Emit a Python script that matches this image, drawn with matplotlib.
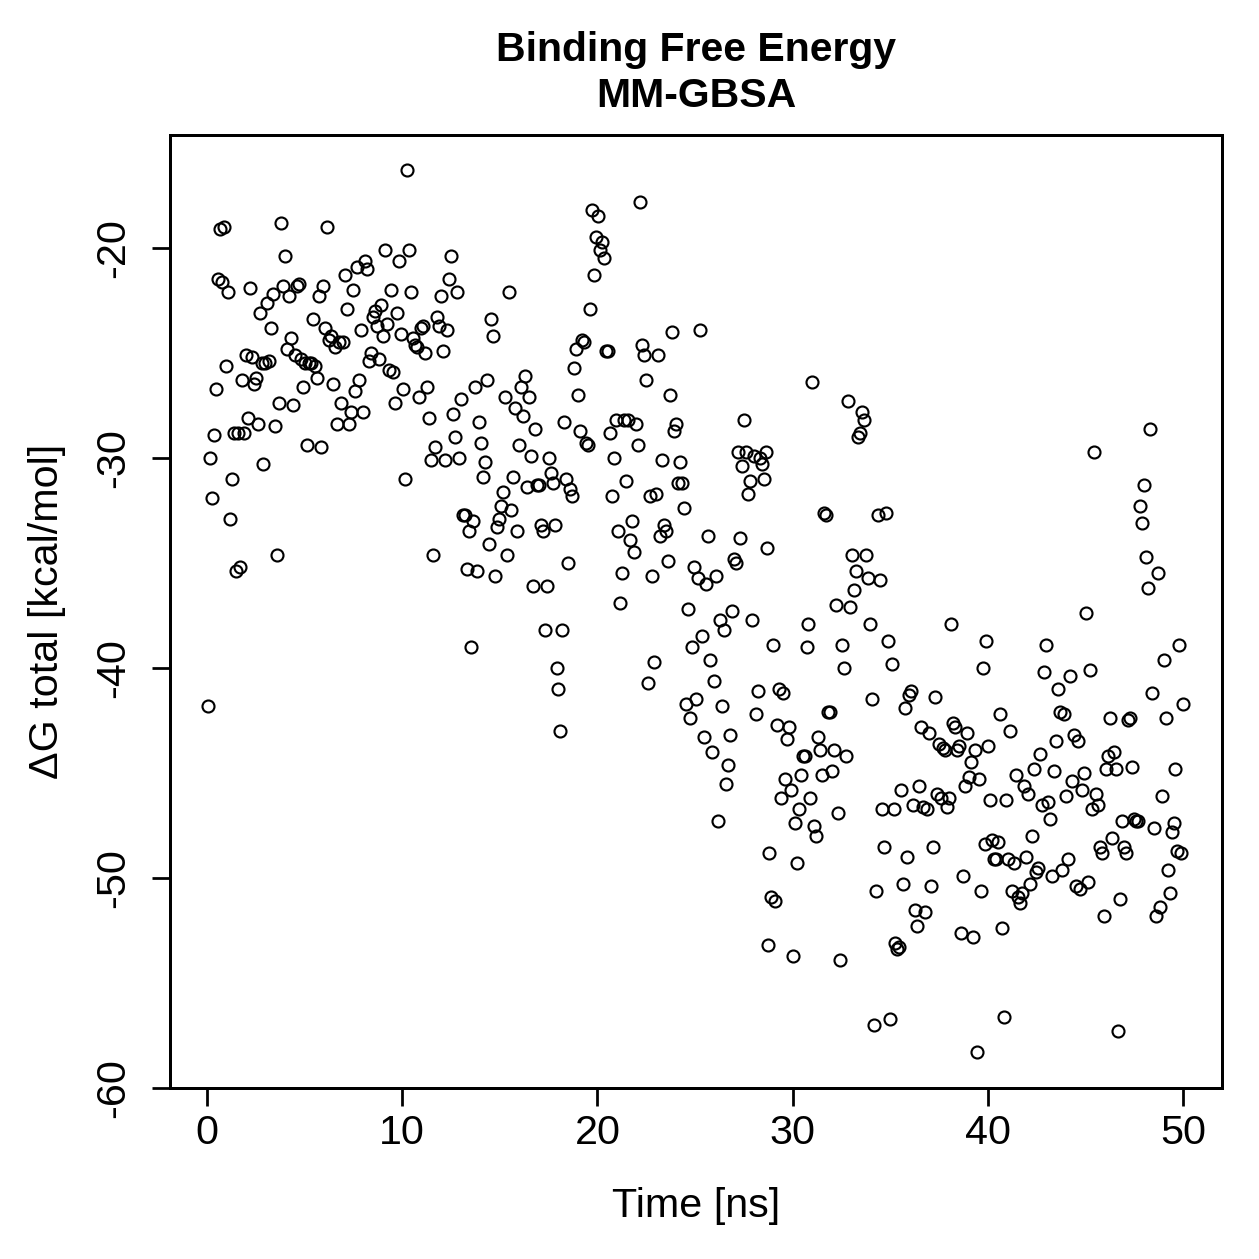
import matplotlib
matplotlib.use("Agg")
import matplotlib.pyplot as plt

plt.rcParams["font.family"] = ["Liberation Sans", "DejaVu Sans"]
plt.rcParams["axes.unicode_minus"] = False

# --- data (time in ns, dG in kcal/mol) ---
time_ns = [
    0.05, 0.15, 0.26, 0.36, 0.46, 0.56, 0.67, 0.77, 0.87, 0.97,
    1.08, 1.18, 1.28, 1.38, 1.49, 1.59, 1.69, 1.79, 1.90, 2.00,
    2.10, 2.20, 2.31, 2.41, 2.51, 2.61, 2.72, 2.82, 2.87, 2.97,
    3.07, 3.18, 3.28, 3.38, 3.48, 3.59, 3.69, 3.79, 3.89, 4.00,
    4.10, 4.20, 4.30, 4.41, 4.51, 4.61, 4.71, 4.82, 4.92, 5.02,
    5.12, 5.23, 5.33, 5.43, 5.53, 5.64, 5.74, 5.84, 5.94, 6.05,
    6.15, 6.25, 6.35, 6.45, 6.56, 6.66, 6.76, 6.86, 6.97, 7.07,
    7.17, 7.27, 7.38, 7.48, 7.58, 7.68, 7.79, 7.89, 7.99, 8.09,
    8.20, 8.30, 8.40, 8.50, 8.61, 8.71, 8.81, 8.91, 9.02, 9.12,
    9.22, 9.32, 9.43, 9.53, 9.63, 9.73, 9.84, 9.94, 10.04, 10.14,
    10.25, 10.35, 10.45, 10.55, 10.66, 10.76, 10.86, 10.96, 11.07, 11.17,
    11.27, 11.37, 11.48, 11.58, 11.68, 11.78, 11.89, 11.99, 12.09, 12.19,
    12.30, 12.40, 12.50, 12.60, 12.71, 12.81, 12.91, 13.01, 13.11, 13.22,
    13.32, 13.42, 13.52, 13.63, 13.73, 13.83, 13.93, 14.04, 14.14, 14.24,
    14.34, 14.45, 14.55, 14.65, 14.75, 14.86, 14.96, 15.06, 15.16, 15.27,
    15.37, 15.47, 15.57, 15.68, 15.78, 15.88, 15.98, 16.09, 16.19, 16.29,
    16.39, 16.50, 16.60, 16.70, 16.80, 16.91, 17.01, 17.11, 17.21, 17.32,
    17.42, 17.52, 17.62, 17.73, 17.83, 17.93, 17.98, 18.08, 18.19, 18.29,
    18.39, 18.49, 18.60, 18.70, 18.80, 18.90, 19.01, 19.11, 19.21, 19.31,
    19.42, 19.52, 19.62, 19.72, 19.83, 19.93, 20.03, 20.13, 20.24, 20.34,
    20.44, 20.54, 20.65, 20.75, 20.85, 20.95, 21.06, 21.16, 21.26, 21.36,
    21.47, 21.57, 21.67, 21.77, 21.88, 21.98, 22.08, 22.18, 22.29, 22.39,
    22.49, 22.59, 22.70, 22.80, 22.90, 23.00, 23.10, 23.21, 23.31, 23.41,
    23.51, 23.62, 23.72, 23.82, 23.92, 24.03, 24.13, 24.23, 24.33, 24.44,
    24.54, 24.64, 24.74, 24.85, 24.95, 25.05, 25.15, 25.26, 25.36, 25.46,
    25.56, 25.67, 25.77, 25.87, 25.97, 26.08, 26.18, 26.28, 26.38, 26.49,
    26.59, 26.69, 26.79, 26.90, 27.00, 27.10, 27.20, 27.31, 27.41, 27.51,
    27.61, 27.72, 27.82, 27.92, 28.02, 28.13, 28.23, 28.33, 28.43, 28.54,
    28.64, 28.69, 28.74, 28.79, 28.89, 29.00, 29.10, 29.20, 29.30, 29.41,
    29.51, 29.61, 29.71, 29.82, 29.92, 30.02, 30.12, 30.23, 30.33, 30.43,
    30.53, 30.64, 30.74, 30.79, 30.89, 30.99, 31.10, 31.20, 31.30, 31.40,
    31.51, 31.61, 31.71, 31.81, 31.92, 32.02, 32.12, 32.22, 32.33, 32.43,
    32.53, 32.63, 32.74, 32.84, 32.94, 33.04, 33.15, 33.25, 33.35, 33.45,
    33.56, 33.66, 33.76, 33.86, 33.97, 34.07, 34.17, 34.27, 34.38, 34.48,
    34.58, 34.68, 34.79, 34.89, 34.99, 35.09, 35.20, 35.25, 35.35, 35.45,
    35.55, 35.66, 35.76, 35.86, 35.96, 36.07, 36.17, 36.27, 36.37, 36.48,
    36.58, 36.68, 36.78, 36.89, 36.99, 37.09, 37.19, 37.30, 37.40, 37.50,
    37.60, 37.71, 37.81, 37.91, 38.01, 38.12, 38.22, 38.32, 38.42, 38.53,
    38.63, 38.73, 38.83, 38.94, 39.04, 39.14, 39.24, 39.35, 39.45, 39.55,
    39.65, 39.76, 39.86, 39.91, 40.01, 40.11, 40.22, 40.32, 40.42, 40.52,
    40.63, 40.73, 40.83, 40.93, 41.04, 41.14, 41.24, 41.34, 41.45, 41.55,
    41.65, 41.75, 41.86, 41.96, 42.06, 42.16, 42.26, 42.37, 42.47, 42.57,
    42.67, 42.78, 42.88, 42.98, 43.08, 43.19, 43.29, 43.39, 43.49, 43.60,
    43.70, 43.80, 43.90, 44.01, 44.11, 44.21, 44.31, 44.42, 44.52, 44.62,
    44.72, 44.83, 44.93, 45.03, 45.13, 45.24, 45.34, 45.44, 45.54, 45.65,
    45.75, 45.85, 45.95, 46.06, 46.16, 46.26, 46.36, 46.47, 46.57, 46.67,
    46.77, 46.88, 46.98, 47.08, 47.18, 47.29, 47.39, 47.49, 47.59, 47.70,
    47.80, 47.90, 48.00, 48.10, 48.21, 48.31, 48.41, 48.51, 48.62, 48.72,
    48.82, 48.92, 49.03, 49.13, 49.23, 49.33, 49.44, 49.54, 49.59, 49.69,
    49.80, 49.90, 50.00,
]

dg_total = [
    -41.8, -30.0, -31.9, -28.9, -26.7, -21.5, -19.1, -21.6, -19.0, -25.6,
    -22.1, -32.9, -31.0, -28.8, -35.4, -28.8, -35.2, -26.3, -28.8, -25.1,
    -28.1, -21.9, -25.2, -26.5, -26.2, -28.4, -23.1, -25.5, -30.3, -25.5,
    -22.6, -25.4, -23.8, -22.2, -28.5, -34.6, -27.4, -18.8, -21.8, -20.4,
    -24.8, -22.3, -24.3, -27.5, -25.1, -21.8, -21.7, -25.3, -26.6, -25.5,
    -29.4, -25.5, -25.5, -23.4, -25.6, -26.2, -22.3, -29.5, -21.8, -23.8,
    -19.0, -24.4, -24.2, -26.5, -24.7, -28.4, -24.5, -27.4, -24.5, -21.3,
    -22.9, -28.4, -27.8, -22.0, -26.8, -20.9, -26.3, -23.9, -27.8, -20.6,
    -21.0, -25.4, -25.0, -23.3, -23.0, -23.7, -25.3, -22.7, -24.2, -20.1,
    -23.6, -25.8, -22.0, -25.9, -27.4, -23.1, -20.6, -24.1, -26.7, -31.0,
    -16.3, -20.1, -22.1, -24.3, -24.6, -24.7, -27.1, -23.8, -23.7, -25.0,
    -26.6, -28.1, -30.1, -34.6, -29.5, -23.3, -23.7, -22.3, -24.9, -30.1,
    -23.9, -21.5, -20.4, -27.9, -29.0, -22.1, -30.0, -27.2, -32.7, -32.7,
    -35.3, -33.5, -39.0, -33.0, -26.6, -35.4, -28.3, -29.3, -30.9, -30.2,
    -26.3, -34.1, -23.4, -24.2, -35.6, -33.3, -32.9, -32.3, -31.6, -27.1,
    -34.6, -22.1, -32.5, -30.9, -27.6, -33.5, -29.4, -26.6, -28.0, -26.1,
    -31.4, -27.1, -29.9, -36.1, -28.6, -31.3, -31.3, -33.2, -33.5, -38.2,
    -36.1, -30.0, -30.7, -31.2, -33.2, -40.0, -41.0, -43.0, -38.2, -28.3,
    -31.0, -35.0, -31.5, -31.8, -25.7, -24.8, -27.0, -28.7, -24.4, -24.5,
    -29.3, -29.4, -22.9, -18.2, -21.3, -19.5, -18.5, -20.1, -19.7, -20.5,
    -24.9, -24.9, -28.8, -31.8, -30.0, -28.2, -33.5, -36.9, -35.5, -28.2,
    -31.1, -28.2, -33.9, -33.0, -34.5, -28.4, -29.4, -17.8, -24.6, -25.1,
    -26.3, -40.7, -31.8, -35.6, -39.7, -31.7, -25.1, -33.7, -30.1, -33.2,
    -33.5, -34.9, -27.0, -24.0, -28.7, -28.4, -31.2, -30.2, -31.2, -32.4,
    -41.7, -37.2, -42.4, -39.0, -35.2, -41.5, -35.7, -23.9, -38.5, -43.3,
    -36.0, -33.7, -39.6, -44.0, -40.6, -35.6, -47.3, -37.7, -41.8, -38.2,
    -45.5, -44.6, -43.2, -37.3, -34.8, -35.0, -29.7, -33.8, -30.4, -28.2,
    -29.7, -31.7, -31.1, -37.7, -29.9, -42.2, -41.1, -30.0, -30.3, -31.0,
    -29.7, -34.3, -53.2, -48.8, -50.9, -38.9, -51.1, -42.7, -41.0, -46.2,
    -41.2, -45.3, -43.4, -42.8, -45.8, -53.7, -47.4, -49.3, -46.7, -45.1,
    -44.2, -44.2, -39.0, -37.9, -46.2, -26.4, -47.5, -48.0, -43.3, -43.9,
    -45.1, -32.6, -32.7, -42.1, -42.1, -44.9, -43.9, -37.0, -46.9, -53.9,
    -38.9, -40.0, -44.2, -27.3, -37.1, -34.6, -36.3, -35.4, -29.0, -28.8,
    -27.8, -28.2, -34.6, -35.7, -37.9, -41.5, -57.0, -50.6, -32.7, -35.8,
    -46.7, -48.5, -32.6, -38.7, -56.7, -39.8, -46.7, -53.1, -53.4, -53.3,
    -45.8, -50.3, -41.9, -49.0, -41.3, -41.1, -46.5, -51.5, -52.3, -45.6,
    -42.8, -46.6, -51.6, -46.7, -43.1, -50.4, -48.5, -41.4, -46.0, -43.6,
    -46.2, -43.8, -43.9, -46.6, -46.2, -37.9, -42.6, -42.8, -43.9, -43.7,
    -52.6, -49.9, -45.6, -43.1, -45.2, -44.5, -52.8, -43.9, -58.3, -45.3,
    -50.6, -40.0, -48.4, -38.7, -43.7, -46.3, -48.2, -49.1, -49.1, -48.3,
    -42.2, -52.4, -56.6, -46.3, -49.1, -43.0, -50.6, -49.3, -45.1, -50.9,
    -51.2, -50.7, -45.6, -49.0, -46.0, -50.3, -48.0, -44.8, -49.7, -49.5,
    -44.1, -46.5, -40.2, -38.9, -46.4, -47.2, -49.9, -44.9, -43.5, -41.0,
    -42.1, -49.6, -42.2, -46.1, -49.1, -40.4, -45.4, -43.2, -50.4, -43.5,
    -50.5, -45.8, -45.0, -37.4, -50.2, -40.1, -46.7, -29.7, -46.0, -46.5,
    -48.5, -48.8, -51.8, -44.8, -44.2, -42.4, -48.1, -44.0, -44.8, -57.3,
    -51.0, -47.3, -48.5, -48.8, -42.5, -42.4, -44.7, -47.2, -47.3, -47.3,
    -32.3, -33.1, -31.3, -34.7, -36.2, -28.6, -41.2, -47.6, -51.8, -35.5,
    -51.4, -46.1, -39.6, -42.4, -49.6, -50.7, -47.8, -47.4, -44.8, -48.7,
    -38.9, -48.8, -41.7,
]

x_ticks = [0, 10, 20, 30, 40, 50]
y_ticks = [-60, -50, -40, -30, -20]

fig = plt.figure(figsize=(1259 / 180, 1259 / 180), dpi=180)
ax = fig.add_axes([0.135, 0.1358, 0.8356, 0.757])

ax.plot(time_ns, dg_total, linestyle="none", marker="o", markersize=4.8,
        markerfacecolor="none", markeredgecolor="black", markeredgewidth=0.85)

# R-style 4% padding around the data range
ax.set_xlim(-1.9, 51.99)
ax.set_ylim(-59.98, -14.62)

ax.set_xticks(x_ticks)
ax.set_yticks(y_ticks)
ax.tick_params(direction="out", length=7.2, width=1.1, labelsize=16.5, color="black")
ax.tick_params(axis="x", pad=3)
ax.tick_params(axis="y", pad=8)
for lab in ax.get_yticklabels():
    lab.set_rotation(90)
    lab.set_va("center")

for spine in ax.spines.values():
    spine.set_linewidth(1.2)
    spine.set_color("black")

ax.set_xlabel("Time [ns]", fontsize=16.5, labelpad=14)
ax.set_ylabel("\u0394G total [kcal/mol]", fontsize=16.5, labelpad=11)
ax.set_title("Binding Free Energy\nMM-GBSA", fontsize=16.4, fontweight="bold",
             linespacing=1.28, pad=11)

fig.savefig("out.png", dpi=180)
